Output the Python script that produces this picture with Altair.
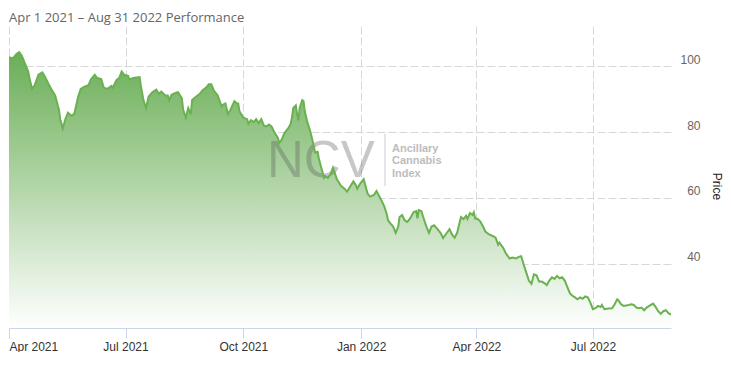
import altair as alt
import pandas as pd

# ---- data ----
START = "2021-04-01"
DAYS = [0, 3, 6, 8, 10, 13, 15, 16, 18, 20, 23, 26, 28, 31, 33, 36, 37, 39, 40, 42,
        44, 46, 49, 51, 54, 56, 59, 62, 64, 67, 69, 72, 74, 77, 80, 81, 84, 86, 88, 90,
        93, 94, 97, 102, 103, 105, 107, 109, 112, 115, 117, 119, 122, 124, 125, 127, 130, 132, 135, 136,
        138, 140, 142, 143, 146, 149, 151, 154, 156, 158, 160, 163, 166, 167, 169, 171, 173, 176, 178, 179,
        180, 183, 186, 187, 189, 191, 193, 195, 197, 199, 201, 203, 205, 207, 210, 211, 213, 215, 218, 220,
        221, 222, 224, 225, 226, 227, 229, 230, 231, 233, 235, 236, 238, 239, 241, 242, 244, 246, 247, 249,
        251, 253, 254, 256, 259, 262, 264, 267, 269, 271, 272, 274, 277, 280, 282, 285, 287, 289, 290, 293,
        295, 296, 298, 300, 302, 304, 305, 307, 309, 311, 313, 316, 318, 319, 320, 322, 324, 326, 328, 330,
        332, 334, 337, 339, 341, 344, 346, 348, 350, 352, 353, 355, 357, 358, 360, 362, 363, 364, 366, 368,
        370, 372, 375, 378, 380, 382, 383, 386, 388, 389, 391, 393, 396, 398, 400, 402, 404, 406, 408, 410,
        412, 414, 416, 419, 420, 422, 424, 426, 428, 430, 432, 434, 436, 438, 440, 442, 444, 446, 448, 450,
        452, 454, 456, 458, 460, 462, 463, 465, 468, 471, 473, 475, 476, 478, 480, 484, 486, 488, 490, 492,
        494, 496, 498, 500, 503, 505, 507, 509, 511, 513, 515, 517]
PRICE = [102.7, 102.4, 103.8, 104.3, 103.2, 100.3, 98.4, 96.4, 93.1, 94.2, 97.4, 98.1, 96.9, 94.5, 93.1, 91.1, 89.7, 86.8, 83.9, 81.1,
         83.9, 85.9, 84.9, 85.6, 90.7, 93.1, 93.8, 94.2, 96.0, 97.4, 96.4, 96.1, 93.5, 93.1, 94.0, 93.5, 95.8, 96.4, 98.4, 97.4,
         97.1, 96.0, 96.4, 96.7, 94.0, 89.7, 87.3, 90.7, 92.1, 92.9, 91.6, 92.3, 91.1, 91.1, 89.7, 91.3, 91.9, 92.1, 90.2, 86.8,
         84.4, 87.3, 85.4, 89.7, 90.7, 91.6, 92.6, 93.5, 94.5, 94.5, 92.6, 91.1, 87.8, 88.3, 88.7, 85.4, 86.8, 89.4, 88.7, 88.7,
         86.3, 84.4, 83.9, 82.5, 83.6, 83.0, 83.9, 82.7, 83.9, 82.0, 81.7, 82.3, 81.7, 80.1, 78.2, 76.7, 77.7, 79.6, 81.1, 82.5,
         84.4, 87.3, 88.1, 85.4, 83.5, 87.3, 89.7, 89.4, 86.3, 83.0, 80.6, 79.1, 75.8, 73.8, 74.0, 71.9, 69.0, 66.1, 66.6, 66.1,
         67.1, 69.2, 68.1, 65.7, 63.8, 62.8, 61.9, 63.8, 65.0, 63.8, 62.8, 64.2, 65.7, 61.3, 60.4, 60.9, 62.1, 60.6, 59.9, 57.5,
         55.1, 53.2, 52.2, 51.3, 49.4, 51.3, 54.2, 54.8, 53.2, 52.7, 53.6, 55.7, 56.0, 53.8, 56.3, 56.0, 53.6, 51.3, 49.4, 51.3,
         51.7, 50.8, 49.4, 47.8, 48.9, 50.5, 48.9, 47.9, 49.4, 52.7, 54.2, 53.6, 54.6, 53.6, 55.4, 54.8, 55.6, 53.8, 53.6, 52.9,
         51.5, 49.8, 48.9, 48.4, 47.9, 45.8, 46.4, 44.8, 43.2, 42.6, 41.6, 41.9, 41.6, 42.1, 42.3, 39.7, 37.3, 34.9, 33.9, 36.8,
         36.5, 34.6, 34.6, 33.9, 33.5, 34.9, 35.9, 35.4, 36.3, 35.6, 35.9, 34.9, 33.0, 31.1, 30.3, 29.8, 29.2, 29.8, 29.4, 30.1,
         29.8, 28.2, 26.2, 26.5, 27.2, 26.9, 27.5, 26.2, 26.4, 26.5, 27.7, 29.2, 28.9, 27.7, 27.2, 27.5, 27.7, 27.5, 26.7, 26.5,
         26.7, 25.9, 26.7, 27.2, 27.9, 26.9, 25.6, 24.8, 25.6, 25.9, 25.0, 24.6]

X_DOMAIN = [(2021, 4, 1), (2022, 8, 31)]
X_TICKS = [(2021, 4, 1), (2021, 7, 1), (2021, 10, 1), (2022, 1, 1), (2022, 4, 1), (2022, 7, 1)]
Y_MIN, Y_MAX = 20.5, 112.2
Y_TICKS = [40, 60, 80, 100]
TITLE = "Apr 1 2021 \u2013 Aug 31 2022 Performance"
Y_TITLE = "Price"
WM_MAIN = "NCV"
WM_SUB = "Ancillary\nCannabis\nIndex"

start = pd.Timestamp(START)
dates = [(start + pd.Timedelta(days=d)).strftime("%Y-%m-%dT00:00:00") for d in DAYS]
df = pd.DataFrame({"date": dates, "price": PRICE})


def dt(t):
    return alt.DateTime(year=t[0], month=t[1], date=t[2])


GRID = "#d8d8d8"
x_enc = alt.X(
    "date:T",
    scale=alt.Scale(domain=[dt(X_DOMAIN[0]), dt(X_DOMAIN[1])]),
    axis=alt.Axis(
        values=[dt(t) for t in X_TICKS], format="%b %Y", title=None,
        grid=True, gridDash=[8, 3], gridColor=GRID,
        domainColor="#ccd6eb", tickColor="#ccd6eb", tickSize=10, labelPadding=3,
        labelColor="#333333", labelFont="Liberation Sans", labelFontSize=12,
        labelFlush=True,
    ),
)
y_enc = alt.Y(
    "price:Q",
    scale=alt.Scale(domain=[Y_MIN, Y_MAX], nice=False, zero=False),
    axis=alt.Axis(
        orient="right", values=Y_TICKS, title=Y_TITLE,
        grid=True, gridDash=[8, 3], gridColor=GRID,
        domain=False, ticks=False, labelAlign="right", labelPadding=29,
        labelOffset=-7, labelBaseline="middle",
        labelColor="#666666", labelFont="Liberation Sans", labelFontSize=12,
        titleColor="#222222", titleFont="Liberation Sans", titleFontSize=12,
        titleFontWeight="normal", titleAngle=90, titleX=45, titleY=160,
        titleAlign="center", titleBaseline="middle",
    ),
)

base = alt.Chart(df)

area = base.mark_area(
    clip=True,
    color=alt.Gradient(
        gradient="linear",
        stops=[alt.GradientStop(color="#6aae56", offset=0),
               alt.GradientStop(color="#ffffff", offset=1)],
        x1=1, x2=1, y1=0, y2=1,
    ),
).encode(x=x_enc, y=y_enc, y2=alt.datum(Y_MIN))

line = base.mark_line(clip=True, color="#6ab150", strokeWidth=2).encode(x="date:T", y="price:Q")

wm1 = alt.Chart(pd.DataFrame({"t": [WM_MAIN]})).mark_text(
    font="Liberation Sans", fontSize=51, color="#555555", opacity=0.32,
    align="left", baseline="alphabetic",
).encode(x=alt.value(258), y=alt.value(151), text="t:N")

wm_rule = alt.Chart(pd.DataFrame({"t": [WM_MAIN]})).mark_rule(
    color="#cccccc", strokeWidth=1
).encode(x=alt.value(376), y=alt.value(108), y2=alt.value(160))

wm2 = alt.Chart(pd.DataFrame({"t": [WM_SUB]})).mark_text(
    font="Liberation Sans", fontSize=11, fontWeight="bold", color="#bdbdbd",
    align="left", baseline="alphabetic", lineBreak="\n", lineHeight=12.4,
).encode(x=alt.value(383), y=alt.value(126), text="t:N")

chart = alt.layer(area, wm1, wm_rule, wm2, line).properties(
    width=662,
    height=302,
    padding={"left": 0, "top": 4, "right": 1, "bottom": 0},
    background="white",
    title=alt.TitleParams(
        TITLE, anchor="start", frame="group", font="Open Sans", fontSize=13,
        fontWeight="normal", color="#666666", offset=1,
    ),
).configure_view(stroke=None)

chart.save("out.html", embed_options={"renderer": "svg", "actions": False})
